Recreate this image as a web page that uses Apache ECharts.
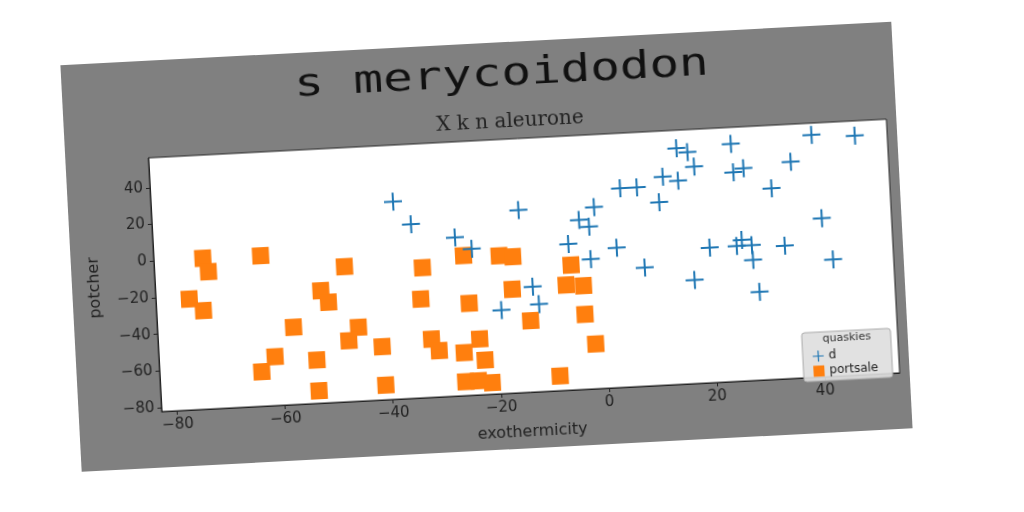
<!DOCTYPE html>
<html>
<head>
<meta charset="utf-8">
<script src="https://cdn.jsdelivr.net/npm/echarts@6/dist/echarts.min.js"></script>
<style>
    html, body { margin: 0; padding: 0; background: #fff; width: 1024px; height: 512px; overflow: hidden; }
    #fig {
        position: absolute; left: 71px; top: 42px; width: 832px; height: 407px;
        background: #808080;
        transform-origin: 441px 214px;
        transform: rotate(-3deg);
    }
    #chart { width: 100%; height: 100%; }
</style>
</head>
<body>
<div id="fig"><div id="chart"></div></div>
<script>
// values
const seriesNames = ['d', 'portsale'];
const legendTitle = 'quaskies';

const dX = [-38.1, -35.0, -27.0, -24.0, -15.0, -19.1, -13.1, -12.1, -1.0, -3.9,
    -2.1, -6.1, -2.1, 2.8, 4.0, 7.1, 7.8, 11.1, 12.0, 14.8,
    14.8, 16.8, 17.9, 16.9, 20.0, 24.9, 25.1, 27.0, 25.0, 26.0,
    27.8, 27.9, 28.8, 32.0, 33.9, 35.8, 39.9, 41.0, 42.7, 47.9];
const dY = [25.4, 12.6, 4.2, -2.5, 17.3, -36.6, -24.8, -34.4, 16.7, 10.2,
    6.2, -2.6, -11.5, -6.0, 26.3, 26.3, -17.6, 17.5, 31.3, 28.7,
    46.4, 43.9, 35.9, -25.8, -8.6, 47.2, 31.7, 33.6, -8.5, -5.3,
    -8.4, -16.5, -34.0, 21.9, -9.7, 35.8, 49.8, 4.2, -18.5, 48.2];

const portsaleX = [-73.8, -72.9, -63.1, -76.7, -74.2, -47.7, -33.3, -52.3, -51.0, -33.9,
    -57.7, -45.7, -47.6, -41.5, -61.4, -64.0, -53.7, -53.6, -41.2, -25.6,
    -19.0, -16.5, -5.8, -16.9, -25.0, -6.9, -3.7, -13.8, -3.7, -2.0,
    -32.3, -31.0, -23.4, -26.4, -22.6, -26.4, -24.0, -21.5, -8.9];
const portsaleY = [0.1, -7.4, -0.2, -21.7, -28.4, -8.5, -11.3, -20.9, -27.4, -28.3,
    -40.0, -41.9, -48.9, -53.1, -55.5, -63.3, -58.5, -75.3, -74.1, -5.9,
    -7.0, -7.9, -14.1, -25.6, -32.0, -24.8, -25.7, -43.2, -41.3, -57.7,
    -50.4, -56.9, -51.7, -58.7, -63.3, -74.5, -74.4, -75.8, -74.1];

const xTicks = [-80, -60, -40, -20, 0, 20, 40];
const yTicks = [-80, -60, -40, -20, 0, 20, 40];

const pairs = (xs, ys) => xs.map((x, i) => [x, ys[i]]);
const fmt = v => (v < 0 ? '\u2212' : '') + Math.abs(v);
const plus = 'path://M-1,-9H1V-1H9V1H1V9H-1V1H-9V-1H-1Z';

window.addEventListener('DOMContentLoaded', () => {
    const myChart = echarts.init(document.getElementById('chart'));

    myChart.setOption({
        animation: false,
        backgroundColor: 'transparent',
        textStyle: { fontFamily: 'DejaVu Sans' },
        graphic: [
            {
                type: 'text', x: 440, y: 33, scaleX: 1.33,
                style: {
                    text: 's merycoidodon',
                    font: '37px "DejaVu Sans Mono"',
                    fill: '#111',
                    textAlign: 'center',
                    textVerticalAlign: 'middle'
                }
            },
            {
                type: 'text', x: 446, y: 80,
                style: {
                    text: 'X k n aleurone',
                    font: '20px "DejaVu Serif"',
                    fill: '#222',
                    textAlign: 'center',
                    textVerticalAlign: 'middle'
                }
            },
            {
                type: 'text', x: 771, y: 313, z: 100,
                style: {
                    text: legendTitle,
                    font: '11px "DejaVu Sans"',
                    fill: '#333',
                    textAlign: 'center',
                    textVerticalAlign: 'middle'
                }
            }
        ],
        grid: {
            left: 83,
            top: 97,
            width: 739,
            height: 254,
            show: true,
            backgroundColor: '#fff',
            borderColor: '#222',
            borderWidth: 1
        },
        legend: {
            orient: 'vertical',
            right: 17,
            bottom: 52,
            padding: [18, 14, 4, 10],
            itemGap: 3,
            itemWidth: 11,
            itemHeight: 11,
            backgroundColor: 'rgba(222,222,222,0.9)',
            borderColor: '#aaa',
            borderWidth: 1,
            borderRadius: 3,
            textStyle: { fontSize: 12, color: '#222' },
            data: [
                { name: seriesNames[0], icon: plus },
                { name: seriesNames[1], icon: 'rect' }
            ]
        },
        xAxis: {
            type: 'value',
            min: -82.9,
            max: 53.9,
            name: 'exothermicity',
            nameLocation: 'middle',
            nameGap: 32,
            nameTextStyle: { fontSize: 16, color: '#222' },
            axisLine: { show: true, onZero: false, lineStyle: { color: '#222', width: 1 } },
            axisTick: { show: true, length: 4, customValues: xTicks, lineStyle: { color: '#222' } },
            axisLabel: { customValues: xTicks, formatter: fmt, fontSize: 15, color: '#222', margin: 7 },
            splitLine: { show: false }
        },
        yAxis: {
            type: 'value',
            min: -82.1,
            max: 56.2,
            name: 'potcher',
            nameLocation: 'middle',
            nameGap: 52,
            nameTextStyle: { fontSize: 16, color: '#222' },
            axisLine: { show: true, onZero: false, lineStyle: { color: '#222', width: 1 } },
            axisTick: { show: true, length: 4, customValues: yTicks, lineStyle: { color: '#222' } },
            axisLabel: { customValues: yTicks, formatter: fmt, fontSize: 15, color: '#222', margin: 7 },
            splitLine: { show: false }
        },
        series: [
            {
                name: seriesNames[0],
                type: 'scatter',
                symbol: plus,
                symbolSize: 18,
                z: 3,
                itemStyle: { color: '#1f77b4', opacity: 1 },
                data: pairs(dX, dY)
            },
            {
                name: seriesNames[1],
                type: 'scatter',
                symbol: 'rect',
                symbolSize: 17,
                z: 2,
                itemStyle: { color: '#ff7f0e', opacity: 1 },
                data: pairs(portsaleX, portsaleY)
            }
        ]
    });
});
</script>
</body>
</html>
